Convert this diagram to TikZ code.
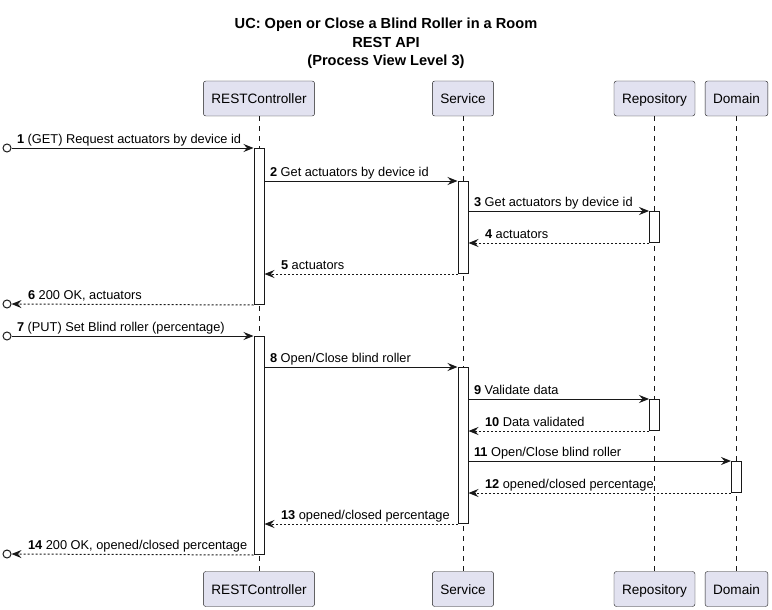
\documentclass[tikz,border=0pt]{standalone}
\usepackage{fontspec}
\setmainfont{Liberation Sans}
\usetikzlibrary{arrows.meta}
\definecolor{partfill}{HTML}{E2E2F0}
\definecolor{umlline}{HTML}{181818}

\begin{document}
\begin{tikzpicture}[x=1pt, y=-1pt, every node/.style={font=\fontsize{12.8}{15}\selectfont},%
        part/.style={draw=umlline, fill=partfill, rounded corners=2.5pt, minimum height=35pt, inner xsep=8pt, text height=12pt, text depth=2pt, font=\fontsize{13.6}{16}\selectfont},
        life/.style={draw=umlline, line width=0.5pt, dash pattern=on 5pt off 5pt},
        act/.style={draw=umlline, fill=white, line width=1pt, minimum width=10pt, inner sep=0pt, anchor=north},
        ext/.style={draw=umlline, circle, line width=1pt, minimum size=8pt, inner sep=0pt},
        msg/.style={draw=umlline, line width=1pt, -{Stealth[length=10pt, width=8pt, inset=3.5pt]}},
        ret/.style={msg, dash pattern=on 2pt off 2pt},
        lbl/.style={anchor=base west, xshift=5pt, yshift=5pt, inner sep=0pt},
        rlbl/.style={anchor=base west, xshift=16pt, yshift=5pt, inner sep=0pt}]
        \useasboundingbox (0,0) rectangle (772,610);
        \node[font=\bfseries\fontsize{14.6}{18.5}\selectfont, align=center] (title) at (386,43.5) {UC: Open or Close a Blind Roller in a Room\\REST API\\(Process View Level 3)};
        \node[part] (rc) at (259,98.5) {RESTController};
        \node[part] (sv) at (463,98.5) {Service};
        \node[part] (rp) at (654.5,98.5) {Repository};
        \node[part] (dm) at (736.5,98.5) {Domain};
        \node[part] (rcb) at (259,589) {RESTController};
        \node[part] (svb) at (463,589) {Service};
        \node[part] (rpb) at (654.5,589) {Repository};
        \node[part] (dmb) at (736.5,589) {Domain};
        \foreach \p in {rc,sv,rp,dm}
                \draw[life] (\p) -- (\p b);
        \node[act, minimum height=156pt] (rc1) at (259,148) {};
        \node[act, minimum height=218pt] (rc2) at (259,336) {};
        \node[act, minimum height=92pt] (sv1) at (463,181) {};
        \node[act, minimum height=156pt] (sv2) at (463,367) {};
        \node[act, minimum height=31pt] (rp1) at (654.5,211) {};
        \node[act, minimum height=31pt] (rp2) at (654.5,399) {};
        \node[act, minimum height=31pt] (dm1) at (736.5,461) {};
        \node[ext] (x1) at (7,148) {};
        \node[ext] (x6) at (7,304) {};
        \node[ext] (x7) at (7,336) {};
        \node[ext] (x14) at (7,554) {};
        \draw[msg] (x1) -- (rc1.north west) node[lbl, pos=0] {\textbf{1} (GET) Request actuators by device id};
        \draw[msg] (rc1.east |- sv1.north) -- (sv1.north west) node[lbl, pos=0] {\textbf{2} Get actuators by device id};
        \draw[msg] (sv1.east |- rp1.north) -- (rp1.north west) node[lbl, pos=0] {\textbf{3} Get actuators by device id};
        \draw[ret] (rp1.south west) -- (sv1.east |- rp1.south) node[rlbl, pos=1] {\textbf{4} actuators};
        \draw[ret] (sv1.south west) -- (rc1.east |- sv1.south) node[rlbl, pos=1] {\textbf{5} actuators};
        \draw[ret] (rc1.south west) -- (x6) node[rlbl, pos=1] {\textbf{6} 200 OK, actuators};
        \draw[msg] (x7) -- (rc2.north west) node[lbl, pos=0] {\textbf{7} (PUT) Set Blind roller (percentage)};
        \draw[msg] (rc2.east |- sv2.north) -- (sv2.north west) node[lbl, pos=0] {\textbf{8} Open/Close blind roller};
        \draw[msg] (sv2.east |- rp2.north) -- (rp2.north west) node[lbl, pos=0] {\textbf{9} Validate data};
        \draw[ret] (rp2.south west) -- (sv2.east |- rp2.south) node[rlbl, pos=1] {\textbf{10} Data validated};
        \draw[msg] (sv2.east |- dm1.north) -- (dm1.north west) node[lbl, pos=0] {\textbf{11} Open/Close blind roller};
        \draw[ret] (dm1.south west) -- (sv2.east |- dm1.south) node[rlbl, pos=1] {\textbf{12} opened/closed percentage};
        \draw[ret] (sv2.south west) -- (rc2.east |- sv2.south) node[rlbl, pos=1] {\textbf{13} opened/closed percentage};
        \draw[ret] (rc2.south west) -- (x14) node[rlbl, pos=1] {\textbf{14} 200 OK, opened/closed percentage};
\end{tikzpicture}
\end{document}
